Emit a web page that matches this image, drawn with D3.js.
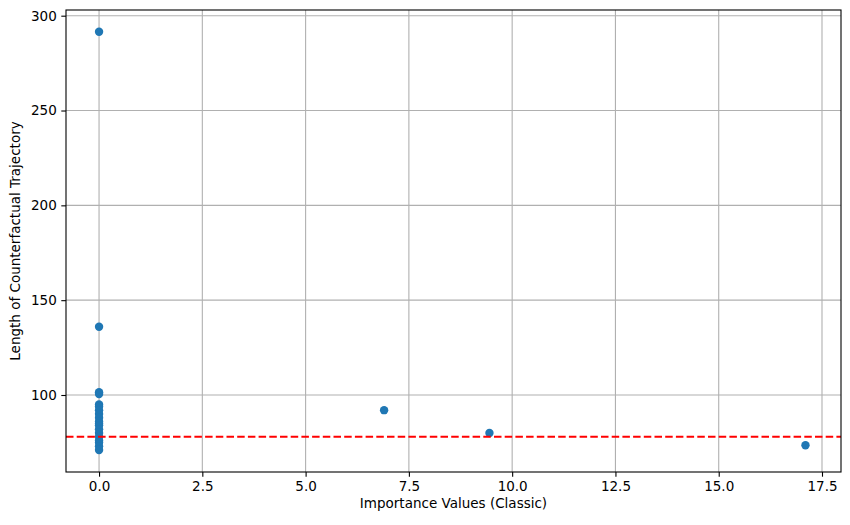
<!DOCTYPE html>
<html>
<head>
<meta charset="utf-8">
<script src="https://cdn.jsdelivr.net/npm/d3@7"></script>
<style>
body {margin:0; background:#fff;}
text {font-family:'DejaVu Sans', sans-serif;}
</style>
</head>
<body>
<svg id="chart" width="850" height="525"></svg>
<script>
// importance value vs length of counterfactual trajectory
var importance = [0,0,0,0,0,0,0,0,0,0,0,0,0,0,0,0,0,0,0,6.9,9.45,17.1]
var trajLength = [291.5,136,101.5,100.5,95,94,92,90,88,86,85,84,82,80,78,76,75,73,71,92,80,73.5]
var threshold = 78
var xTicks = [0,2.5,5,7.5,10,12.5,15,17.5]
var yTicks = [100,150,200,250,300]

// plot box (note: "top" is taken by window.top)
var plotL = 66, plotR = 841, plotT = 10, plotB = 472
var fs = 13.5

var x = d3.scaleLinear().domain([-0.8, 17.96]).range([plotL, plotR])
var y = d3.scaleLinear().domain([59.4, 303]).range([plotB, plotT])

var svg = d3.select('#chart')

//grid
svg.append('g').selectAll('line')
  .data(xTicks).enter().append('line')
    .attr('x1', function(d) {return x(d)}).attr('x2', function(d) {return x(d)})
    .attr('y1', plotT).attr('y2', plotB)
    .attr('stroke', '#b0b0b0').attr('stroke-width', 1.1)
svg.append('g').selectAll('line')
  .data(yTicks).enter().append('line')
    .attr('y1', function(d) {return y(d)}).attr('y2', function(d) {return y(d)})
    .attr('x1', plotL).attr('x2', plotR)
    .attr('stroke', '#b0b0b0').attr('stroke-width', 1.1)

//points
svg.append('g').selectAll('circle')
  .data(importance).enter().append('circle')
    .attr('cx', function(d) {return x(d)})
    .attr('cy', function(d, i) {return y(trajLength[i])})
    .attr('r', 4.2)
    .attr('fill', '#1f77b4')

//threshold line
svg.append('line')
  .attr('x1', plotL).attr('x2', plotR)
  .attr('y1', y(threshold)).attr('y2', y(threshold))
  .attr('stroke', 'red').attr('stroke-width', 2)
  .attr('stroke-dasharray', '7.5,3.2')

//axes
svg.append('g')
  .attr('transform', 'translate(0,' + plotB + ')')
  .call(d3.axisBottom(x).tickValues(xTicks).tickFormat(d3.format('.1f')).tickSize(4.7).tickPadding(4.5))
svg.append('g')
  .attr('transform', 'translate(' + plotL + ',0)')
  .call(d3.axisLeft(y).tickValues(yTicks).tickSize(4.7).tickPadding(4.5))
svg.selectAll('.tick text').attr('font-size', fs).attr('fill', '#000')
svg.selectAll('.tick line').attr('stroke', '#000').attr('stroke-width', 1.1)
svg.selectAll('.domain').remove()

//frame
svg.append('rect')
  .attr('x', plotL).attr('y', plotT)
  .attr('width', plotR - plotL).attr('height', plotB - plotT)
  .attr('fill', 'none').attr('stroke', '#000').attr('stroke-width', 1.1)

//labels
svg.append('text')
  .attr('text-anchor', 'middle')
  .attr('x', (plotL + plotR) / 2)
  .attr('y', 508)
  .attr('font-size', fs)
  .text('Importance Values (Classic)')

svg.append('text')
  .attr('text-anchor', 'middle')
  .attr('transform', 'translate(20,' + (plotT + plotB) / 2 + ') rotate(-90)')
  .attr('font-size', fs)
  .text('Length of Counterfactual Trajectory')
</script>
</body>
</html>
